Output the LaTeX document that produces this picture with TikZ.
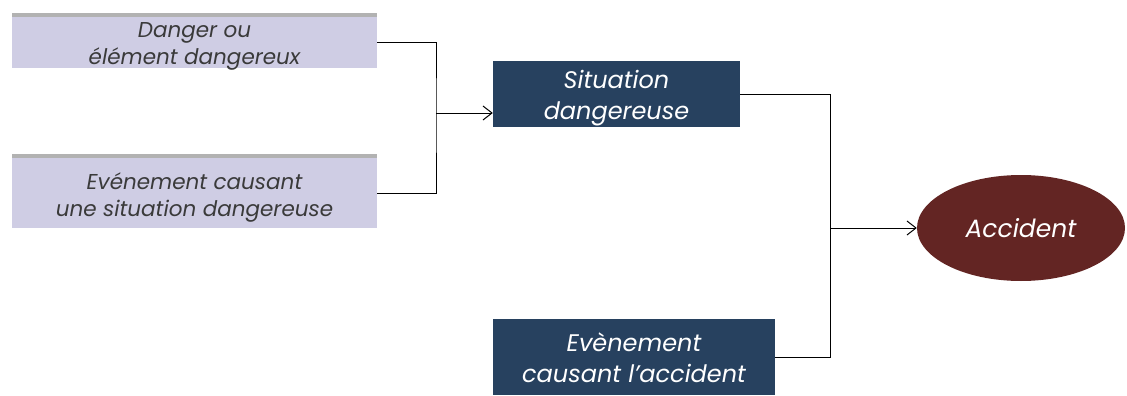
\documentclass[tikz,border=0pt]{standalone}
\usepackage{fontspec}
\setmainfont{Poppins}
\usetikzlibrary{arrows.meta,shapes.geometric,calc}
\definecolor{lav}{HTML}{CFCDE4}
\definecolor{navy}{HTML}{27415F}
\definecolor{maroon}{HTML}{632523}
\definecolor{txtgray}{HTML}{3A3A3A}
\tikzset{
  lavbox/.style={rectangle, fill=lav, inner sep=0pt},
  lavtext/.style={align=center, text=txtgray, inner sep=0pt,
    font=\fontsize{21.5}{27}\selectfont\itshape},
  navybox/.style={rectangle, fill=navy, inner sep=0pt},
  navytext/.style={align=center, text=white, inner sep=0pt,
    font=\fontsize{24}{31}\selectfont\itshape},
  accel/.style={ellipse, fill=maroon, inner sep=0pt, text=white,
    font=\fontsize{25}{30}\selectfont\itshape},
  conn/.style={draw=black, line width=1pt},
  arr/.style={conn, -{Straight Barb[length=9pt,width=14pt,line width=1pt]}}
}
\begin{document}
\begin{tikzpicture}[x=1pt,y=-1pt]
\useasboundingbox (0,0) rectangle (1127,396);
% shadows
\fill[gray!60] (12,13) rectangle (377,18);
\fill[gray!60] (12,154) rectangle (377,159);
\node[lavbox, minimum width=365pt, minimum height=51pt,
  label={[lavtext, yshift=-4pt]center:{Danger ou\\élément dangereux}}] (danger) at (194.5,42.5) {};
\node[lavbox, minimum width=365pt, minimum height=70pt,
  label={[lavtext, yshift=-4pt]center:{Evénement causant\\une situation dangereuse}}] (event) at (194.5,193) {};
\node[navybox, minimum width=247pt, minimum height=66pt,
  label={[navytext, yshift=-4pt]center:{Situation\\dangereuse}}] (sit) at (616.5,94) {};
\node[navybox, minimum width=282pt, minimum height=76pt,
  label={[navytext, yshift=-1pt]center:{Evènement\\causant l’accident}}] (evacc) at (634,357) {};
\node[accel, minimum width=208pt, minimum height=106pt] (acc) at (1021,228) {Accident};
\coordinate (j1) at (436,113);
\coordinate (j2) at (830,228);
\draw[conn] (danger.east) -| (j1) |- (event.east);
\draw[arr] (j1) -- (j1 -| sit.west);
\draw[conn] (sit.east) -| (j2) |- (evacc.east);
\draw[arr] (j2) -- (acc.west);
\end{tikzpicture}
\end{document}
